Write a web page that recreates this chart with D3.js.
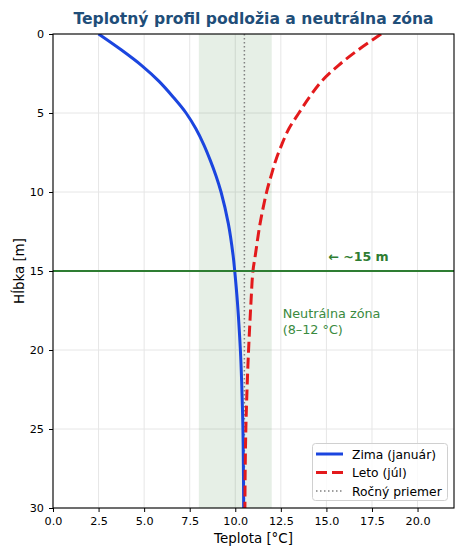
<!DOCTYPE html>
<html><head><meta charset="utf-8">
<script src="https://cdn.jsdelivr.net/npm/d3@7"></script>
<style>body{margin:0;background:#fff}text{font-family:"DejaVu Sans",sans-serif}</style>
</head><body><svg id="c" width="465" height="556"></svg>
<script>
const depths = [0,1,2,3,4,5,6,7,8,9,10,12,14,15,17,20,22,25,28,30];
const winter = [2.5,3.74,4.87,5.82,6.6,7.3,7.84,8.27,8.63,8.95,9.22,9.62,9.88,9.97,10.12,10.28,10.35,10.42,10.45,10.46];
const summer = [18.0,16.75,15.65,14.73,14.07,13.49,12.94,12.55,12.22,11.96,11.72,11.36,11.1,10.97,10.86,10.73,10.66,10.58,10.54,10.53];
const annualMean = 10.5;
const zone = [8, 12];
const neutralDepth = 15;
const xTicks = [0,2.5,5,7.5,10,12.5,15,17.5,20];
const yTicks = [0,5,10,15,20,25,30];
const legendLabels = ["Zima (január)","Leto (júl)","Ročný priemer"];

const svg = d3.select("#c");
const L=53,T=34,R=454,B=508;
const x = d3.scaleLinear().domain([0,22]).range([L,R]);
const y = d3.scaleLinear().domain([0,30]).range([T,B]);

// grid
const g = svg.append("g");
g.selectAll(".gx").data(xTicks).join("line").attr("x1",d=>x(d)).attr("x2",d=>x(d)).attr("y1",T).attr("y2",B).attr("stroke","#e6e6e6").attr("stroke-width",1);
g.selectAll(".gy").data(yTicks).join("line").attr("y1",d=>y(d)).attr("y2",d=>y(d)).attr("x1",L).attr("x2",R).attr("stroke","#e6e6e6").attr("stroke-width",1);

// band
svg.append("rect").attr("x",x(zone[0])).attr("y",T).attr("width",x(zone[1])-x(zone[0])).attr("height",B-T).attr("fill","rgba(46,125,50,0.12)");

// mean line
svg.append("line").attr("x1",x(annualMean)).attr("x2",x(annualMean)).attr("y1",T).attr("y2",B).attr("stroke","#808080").attr("stroke-width",1.5).attr("stroke-dasharray","1.5,2.5");

const line = d3.line().curve(d3.curveCatmullRom.alpha(0.5));
svg.append("clipPath").attr("id","clp").append("rect").attr("x",L).attr("y",T).attr("width",R-L).attr("height",B-T);

svg.append("path").attr("clip-path","url(#clp)").attr("d",line(depths.map((d,i)=>[x(winter[i]),y(d)]))).attr("fill","none").attr("stroke","#1b45df").attr("stroke-width",3);
svg.append("path").attr("clip-path","url(#clp)").attr("d",line(depths.map((d,i)=>[x(summer[i]),y(d)]))).attr("fill","none").attr("stroke","#e31a1c").attr("stroke-width",3).attr("stroke-dasharray","11,5");

// neutral line
svg.append("line").attr("x1",L).attr("x2",R).attr("y1",y(neutralDepth)).attr("y2",y(neutralDepth)).attr("stroke","#2e7d32").attr("stroke-width",2);

// annotations
svg.append("text").attr("x",x(15.1)).attr("y",y(neutralDepth)-10).attr("font-size","12.6px").attr("font-weight","bold").attr("fill","#2e7d32").text("← ~15 m");
const ann = svg.append("text").attr("font-size","12.8px").attr("fill","#3a8a3e");
ann.append("tspan").attr("x",x(12.6)).attr("y",318).text("Neutrálna zóna");
ann.append("tspan").attr("x",x(12.6)).attr("y",334).text("(8–12 °C)");

// axes
const fmt = d3.format(".1f");
const ax = svg.append("g").attr("transform",`translate(0,${B})`).call(d3.axisBottom(x).tickValues(xTicks).tickFormat(fmt).tickSize(4).tickPadding(5));
const ay = svg.append("g").attr("transform",`translate(${L},0)`).call(d3.axisLeft(y).tickValues(yTicks).tickSize(4).tickPadding(5));
[ax,ay].forEach(a=>{a.select(".domain").remove();a.selectAll("text").attr("font-size","11.2px").attr("font-family","DejaVu Sans").attr("fill","#000");a.selectAll("line").attr("stroke","#000");});

svg.append("rect").attr("x",L).attr("y",T).attr("width",R-L).attr("height",B-T).attr("fill","none").attr("stroke","#000").attr("stroke-width",1.1);

// labels
svg.append("text").attr("x",(L+R)/2).attr("y",543).attr("text-anchor","middle").attr("font-size","13.4px").text("Teplota [°C]");
svg.append("text").attr("transform",`translate(24,${(T+B)/2}) rotate(-90)`).attr("text-anchor","middle").attr("font-size","13.4px").text("Hĺbka [m]");
svg.append("text").attr("x",(L+R)/2).attr("y",24).attr("text-anchor","middle").attr("font-size","15.6px").attr("font-weight","bold").attr("fill","#1f4e79").text("Teplotný profil podložia a neutrálna zóna");

// legend
const lg = svg.append("g");
lg.append("rect").attr("x",312.5).attr("y",443.5).attr("width",135).attr("height",57).attr("rx",3).attr("fill","#fff").attr("fill-opacity",0.8).attr("stroke","#d0d0d0");
const styles=[{c:"#1b45df",d:null,w:3},{c:"#e31a1c",d:"11,5",w:3},{c:"#808080",d:"1.5,2.5",w:1.5}];
legendLabels.forEach((t,i)=>{
  const yy=454+i*18.5;
  const l=lg.append("line").attr("x1",316).attr("x2",343).attr("y1",yy).attr("y2",yy).attr("stroke",styles[i].c).attr("stroke-width",styles[i].w);
  if(styles[i].d) l.attr("stroke-dasharray",styles[i].d);
  lg.append("text").attr("x",352).attr("y",yy+4.5).attr("font-size","12.3px").text(t);
});
</script></body></html>
